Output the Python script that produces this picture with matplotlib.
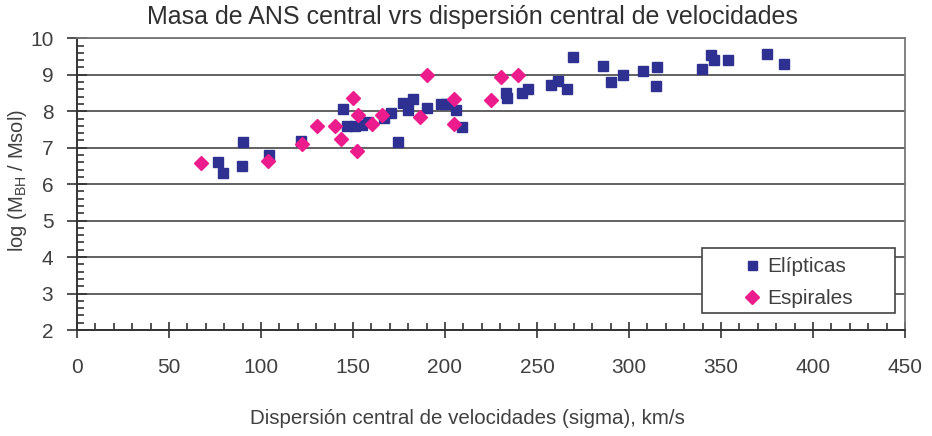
import matplotlib
matplotlib.use("Agg")
import matplotlib.pyplot as plt
from matplotlib.patches import Rectangle
from matplotlib.ticker import MultipleLocator

plt.rcParams['font.family'] = ['Liberation Sans', 'DejaVu Sans']
plt.rcParams['mathtext.default'] = 'regular'

# Data
elip_sigma = [76.6, 79.6, 90.2, 89.9, 104.3, 121.5, 144.4, 147.0, 151.0, 155.0,
              158.0, 167.0, 170.6, 174.6, 177.0, 179.7, 182.4, 190.0, 197.8, 200.5,
              206.2, 209.3, 233.4, 233.9, 242.0, 245.1, 257.4, 261.4, 266.4, 269.5,
              285.8, 290.0, 296.6, 307.5, 315.4, 314.9, 339.6, 344.7, 346.0, 354.0,
              374.9, 384.0]
elip_logm = [6.61, 6.30, 7.15, 6.51, 6.79, 7.17, 8.05, 7.59, 7.59, 7.62,
             7.70, 7.81, 7.95, 7.16, 8.22, 8.04, 8.33, 8.08, 8.20, 8.20,
             8.04, 7.58, 8.51, 8.36, 8.51, 8.61, 8.72, 8.84, 8.61, 9.48,
             9.24, 8.79, 9.00, 9.09, 9.20, 8.70, 9.15, 9.55, 9.41, 9.40,
             9.56, 9.30]

espi_sigma = [67.6, 103.9, 122.5, 130.2, 140.5, 143.5, 150.0, 152.0, 152.5,
              160.2, 165.6, 186.6, 190.2, 205.0, 204.7, 225.2, 230.3, 239.7]
espi_logm = [6.57, 6.63, 7.11, 7.60, 7.60, 7.23, 8.36, 6.92, 7.89,
             7.66, 7.89, 7.84, 8.99, 8.33, 7.65, 8.31, 8.95, 9.00]

txt = '#404040'

fig = plt.figure(figsize=(9.32, 4.36), dpi=100)
ax = fig.add_axes([0.0826, 0.2431, 0.8884, 0.6691])

ax.set_xlim(0, 450)
ax.set_ylim(2, 10)

ax.grid(True, axis='y', color='#555555', linewidth=1.3)
ax.set_axisbelow(True)

ax.plot(elip_sigma, elip_logm, linestyle='none', marker='s', markersize=7.2,
        color='#2E3192', label='Elípticas', zorder=3)
ax.plot(espi_sigma, espi_logm, linestyle='none', marker='D', markersize=7.5,
        color='#EC1C8C', label='Espirales', zorder=4)

ax.xaxis.set_major_locator(MultipleLocator(50))
ax.xaxis.set_minor_locator(MultipleLocator(10))
ax.yaxis.set_major_locator(MultipleLocator(1))
ax.yaxis.set_minor_locator(MultipleLocator(0.2))

ax.tick_params(axis='x', which='major', direction='inout', length=12, width=1.2,
               color='#333333', labelsize=15, labelcolor=txt, pad=14)
ax.tick_params(axis='x', which='minor', direction='in', length=5, width=1.2,
               color='#333333')
ax.tick_params(axis='y', which='major', direction='inout', length=14, width=1.2,
               color='#333333', labelsize=15, labelcolor=txt, pad=10)
ax.tick_params(axis='y', which='minor', direction='in', length=5, width=1.2,
               color='#333333')

for s in ['left', 'bottom']:
    ax.spines[s].set_color('#333333')
    ax.spines[s].set_linewidth(1.4)
for s in ['top', 'right']:
    ax.spines[s].set_color('#777777')
    ax.spines[s].set_linewidth(1.3)

fig.text(0.507, 0.962, 'Masa de ANS central vrs dispersión central de velocidades',
         ha='center', va='center', fontsize=18, color='#303030')
fig.text(0.502, 0.04, 'Dispersión central de velocidades (sigma), km/s',
         ha='center', va='center', fontsize=14.8, color=txt)
fig.text(0.019, 0.585, 'log (M$_{BH}$ / Msol)', rotation=90,
         ha='center', va='center', fontsize=14.5, color=txt)

# legend box drawn by hand, wider than the entries like in the original
ax.add_patch(Rectangle((0.755, 0.058), 0.233, 0.223, transform=ax.transAxes,
                       facecolor='white', edgecolor='#444444', linewidth=1.2,
                       zorder=5))
leg = ax.legend(loc='upper left', bbox_to_anchor=(0.793, 0.271), fontsize=15,
                frameon=False, borderpad=0.3, handletextpad=0.1,
                labelspacing=0.62, handlelength=1.2, borderaxespad=0,
                markerscale=0.9)
leg.set_zorder(6)
for t in leg.get_texts():
    t.set_color(txt)

fig.savefig('out.png', dpi=100)
